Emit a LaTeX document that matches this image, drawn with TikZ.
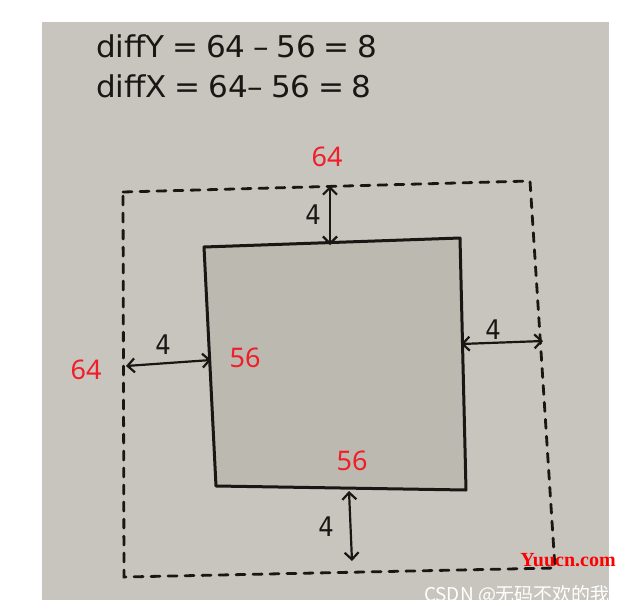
\documentclass[tikz,border=0pt]{standalone}
\usepackage{fontspec}
\setmainfont{Noto Sans}
\newfontfamily\hand{DejaVu Sans Condensed}
\newfontfamily\cjk{Noto Sans CJK SC}
\newfontfamily\wmserif{Liberation Serif}
\usetikzlibrary{arrows.meta}
\definecolor{paper}{RGB}{200,197,191}
\definecolor{innerfill}{RGB}{188,185,177}
\definecolor{ink}{RGB}{25,22,20}
\definecolor{lblred}{RGB}{240,30,40}
\tikzset{
  handtext/.style={text=ink, font=\hand\fontsize{30}{34}\selectfont, inner sep=0pt},
  redlbl/.style={text=lblred, font=\fontsize{27}{30}\selectfont, inner sep=0pt},
  dimlbl/.style={text=ink, font=\hand\fontsize{27}{30}\selectfont, inner sep=0pt},
  dashbox/.style={draw=ink, line width=2.8pt, dash pattern=on 9pt off 8pt, line cap=round},
  solidbox/.style={draw=ink, line width=3pt, fill=innerfill, line join=round},
  dimarrow/.style={draw=ink, line width=2.2pt, {Straight Barb[length=7pt,width=14pt]}-{Straight Barb[length=7pt,width=14pt]}},
}
\begin{document}
\begin{tikzpicture}[x=1pt,y=-1pt]
\useasboundingbox (0,0) rectangle (630,614);
\fill[white] (0,0) rectangle (630,614);
\fill[paper] (42,22) rectangle (609,600);
% text
\node[handtext, anchor=west] (eqy) at (96,46) {\scalebox{1.15}[1]{diffY\:=\:64\:–\:56\:=\:8}};
\node[handtext, anchor=west] (eqx) at (96,86) {\scalebox{1.15}[1]{diffX\:=\:64–\:56\:=\:8}};
% outer dashed box
\coordinate (otl) at (123,192);
\coordinate (otr) at (530,181);
\coordinate (obr) at (555,568);
\coordinate (obl) at (124,577);
\draw[dashbox] (otl) -- (otr) -- (obr) -- (obl) -- cycle;
% inner solid box
\coordinate (itl) at (204,247);
\coordinate (itr) at (460,238);
\coordinate (ibr) at (466,490);
\coordinate (ibl) at (216,486);
\draw[solidbox] (itl) -- (itr) -- (ibr) -- (ibl) -- cycle;
% dimension arrows
\coordinate (ta) at (330,186);
\coordinate (tb) at (330,245);
\draw[dimarrow] (ta) -- (tb);
\coordinate (la) at (126,366);
\coordinate (lb) at (211,360);
\draw[dimarrow] (la) -- (lb);
\coordinate (ra) at (461,344);
\coordinate (rb) at (543,341);
\draw[dimarrow] (ra) -- (rb);
\coordinate (ba) at (349,491);
\coordinate (bb) at (352,561);
\draw[dimarrow] (ba) -- (bb);
% dimension labels
\node[dimlbl] (t4) at (313,215) {4};
\node[dimlbl] (l4) at (163,345) {4};
\node[dimlbl] (r4) at (493,330) {4};
\node[dimlbl] (b4) at (326,527) {4};
% red labels
\node[redlbl] (o64t) at (327,157) {64};
\node[redlbl] (o64l) at (86,370) {64};
\node[redlbl] (i56l) at (245,358) {56};
\node[redlbl] (i56b) at (352,461) {56};
% watermarks
\node[text=red, font=\wmserif\bfseries\fontsize{20}{22}\selectfont, inner sep=0pt] (wm1) at (568,560) {Yuucn.com};
\node[text=white, font=\cjk\fontsize{19}{21}\selectfont, inner sep=0pt] (wm2) at (517,595) {CSDN @无码不欢的我};
\end{tikzpicture}
\end{document}
